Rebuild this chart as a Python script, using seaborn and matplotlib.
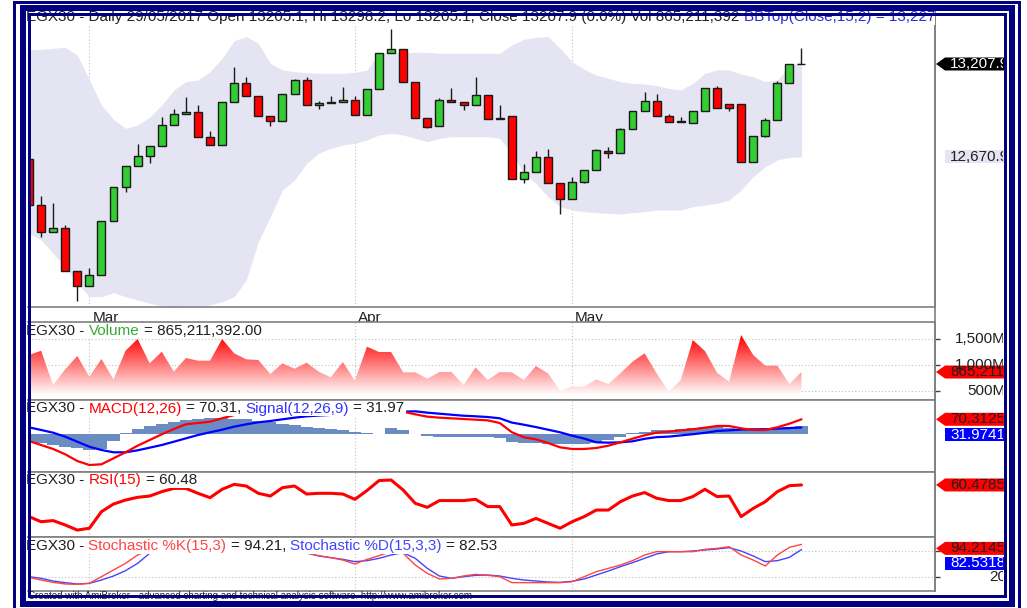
"""
EGX30 daily chart (AmiBroker style) rebuilt with matplotlib + seaborn.
Price candles with Bollinger band, volume, MACD, RSI and stochastic panes.
"""

import numpy as np
import matplotlib
matplotlib.use("Agg")
import matplotlib.pyplot as plt
import seaborn as sns
from matplotlib.colors import LinearSegmentedColormap
from matplotlib.lines import Line2D
from matplotlib.patches import Rectangle, Polygon
from matplotlib.transforms import Bbox, TransformedBbox

W, H = 1027, 608

# ---------------------------------------------------------------- data
# 65 trading sessions, 22 Feb 2017 - 29 May 2017
opens = [12657.6, 12393.7, 12236.1, 12262.7, 12012.6, 11926.0, 11987.8, 12301.3, 12495.9, 12620.6,
         12674.9, 12736.1, 12855.6, 12917.4, 12929.0, 12786.4, 12741.9, 12986.7, 13096.4, 13024.8,
         12907.6, 12878.7, 13034.6, 13113.7, 12969.4, 12984.4, 12988.4, 13000.0, 12913.4, 13061.8,
         13273.1, 13294.5, 13102.2, 12896.1, 12849.9, 12998.3, 12986.7, 12969.4, 13027.1, 12892.0,
         12907.6, 12542.1, 12582.5, 12669.1, 12519.0, 12428.4, 12524.8, 12597.5, 12707.3, 12692.2,
         12830.8, 12936.5, 12992.5, 12907.6, 12874.7, 12867.2, 12936.5, 13067.6, 12975.2, 12975.2,
         12643.7, 12793.9, 12886.3, 13098.2, 13205.1]
highs = [12657.6, 12445.7, 12403.5, 12276.5, 12012.6, 12028.2, 12301.3, 12495.9, 12620.6, 12744.2,
         12736.1, 12903.6, 12948.0, 13017.3, 12971.1, 12822.7, 12986.7, 13188.8, 13131.1, 13024.8,
         12907.6, 13034.6, 13119.5, 13131.1, 12994.2, 13023.1, 13075.1, 13021.4, 13061.8, 13273.1,
         13410.0, 13294.5, 13102.2, 12896.1, 13009.8, 13067.6, 12986.7, 13131.1, 13027.1, 12969.4,
         12907.6, 12630.5, 12703.8, 12717.1, 12519.0, 12557.1, 12597.5, 12715.3, 12730.3, 12840.1,
         12936.5, 13046.2, 13034.6, 12917.4, 12903.6, 12936.5, 13067.6, 13080.8, 12975.2, 12975.2,
         12793.9, 12894.3, 13109.7, 13205.1, 13298.2]
lows = [12393.7, 12210.7, 12236.1, 12012.6, 11839.4, 11926.0, 11987.8, 12301.3, 12467.1, 12620.6,
        12638.0, 12736.1, 12855.6, 12917.4, 12786.4, 12741.9, 12741.9, 12986.7, 13024.8, 12907.6,
        12851.6, 12878.7, 13034.6, 12969.4, 12946.3, 12984.4, 12988.4, 12913.4, 12913.4, 13061.8,
        13273.1, 13102.2, 12896.1, 12836.6, 12849.9, 12986.7, 12942.3, 12969.4, 12892.0, 12892.0,
        12542.1, 12522.5, 12582.5, 12519.0, 12340.0, 12428.4, 12519.0, 12597.5, 12666.8, 12692.2,
        12830.8, 12936.5, 12907.6, 12874.7, 12874.7, 12867.2, 12936.5, 12953.8, 12938.2, 12643.7,
        12643.7, 12784.6, 12886.3, 13098.2, 13205.1]
closes = [12393.7, 12236.1, 12262.7, 12012.6, 11926.0, 11987.8, 12301.3, 12495.9, 12620.6, 12674.9,
          12736.1, 12855.6, 12917.4, 12929.0, 12786.4, 12741.9, 12986.7, 13096.4, 13024.8, 12907.6,
          12878.7, 13034.6, 13113.7, 12969.4, 12980.9, 12988.4, 13000.0, 12913.4, 13061.8, 13273.1,
          13294.5, 13102.2, 12896.1, 12845.8, 12998.3, 12986.7, 12969.4, 13027.1, 12892.0, 12897.8,
          12542.1, 12582.5, 12669.1, 12519.0, 12428.4, 12524.8, 12597.5, 12709.6, 12692.2, 12830.8,
          12936.5, 12992.5, 12907.6, 12874.7, 12878.7, 12936.5, 13067.6, 12953.8, 12953.8, 12643.7,
          12793.9, 12886.3, 13098.2, 13205.1, 13207.9]

bb_top = [13288.7, 13292.5, 13298.3, 13304.1, 13259.8, 13115.5, 12971.1, 12888.3, 12836.4, 12855.6,
          12899.9, 12971.1, 13057.7, 13105.8, 13115.5, 13163.6, 13240.6, 13342.6, 13365.7, 13327.2,
          13211.7, 13173.2, 13163.6, 13157.8, 13153.9, 13153.9, 13153.9, 13159.7, 13173.2, 13269.4,
          13275.2, 13275.2, 13275.2, 13275.2, 13269.4, 13269.4, 13269.4, 13269.4, 13269.4, 13269.4,
          13317.5, 13350.3, 13361.8, 13365.7, 13298.0, 13221.3, 13177.0, 13144.3, 13125.1, 13105.8,
          13096.2, 13092.4, 13082.7, 13067.3, 13057.7, 13096.2, 13153.9, 13173.2, 13173.2, 13150.1,
          13134.7, 13105.8, 13115.5, 13192.4, 13227.1]
bb_bot = [12230.1, 12191.6, 12114.6, 12037.6, 11941.4, 11864.4, 11864.4, 11887.5, 11864.4, 11845.2,
          11825.9, 11810.5, 11806.7, 11810.5, 11810.5, 11816.3, 11835.5, 11864.4, 11960.6, 12182.0,
          12326.3, 12480.3, 12538.0, 12634.3, 12692.0, 12720.9, 12740.2, 12749.8, 12769.0, 12797.9,
          12807.5, 12797.9, 12778.6, 12759.4, 12778.6, 12788.3, 12788.3, 12788.3, 12788.3, 12778.6,
          12692.0, 12576.5, 12518.8, 12441.8, 12384.1, 12364.8, 12355.2, 12349.5, 12345.6, 12341.7,
          12349.5, 12355.2, 12364.8, 12364.8, 12364.8, 12384.1, 12393.7, 12403.3, 12422.6, 12480.3,
          12557.3, 12615.0, 12653.5, 12668.9, 12670.9]

volume_m = [1192, 1275, 615, 917, 1173, 776, 1115, 724, 1275, 1500,
            1032, 1256, 872, 1135, 1083, 1083, 1500, 1224, 1109, 1096,
            827, 1032, 929, 1045, 872, 763, 1058, 699, 1352, 1250,
            1250, 859, 859, 737, 865, 865, 615, 955, 712, 865,
            859, 712, 981, 840, 506, 583, 583, 724, 635, 840,
            1064, 1224, 840, 487, 712, 1481, 1269, 853, 679, 1577,
            1192, 987, 987, 635, 865.2]

macd = [-31.4, -50.2, -68.9, -93.8, -125.2, -144.0, -140.7, -112.6, -84.4, -53.5,
        -26.7, 0.0, 24.9, 46.9, 53.0, 59.1, 75.0, 90.5, 100.0, 102.0,
        100.0, 104.0, 110.0, 106.0, 104.0, 102.0, 100.0, 95.0, 100.0, 115.0,
        122.0, 106.0, 93.8, 82.7, 78.0, 75.0, 71.8, 68.6, 65.5, 53.0,
        10.0, -14.2, -23.3, -40.6, -61.1, -68.9, -68.9, -64.2, -53.4, -37.7,
        -20.6, -4.8, 7.7, 12.4, 18.6, 23.5, 31.1, 39.0, 39.0, 28.1,
        20.3, 20.3, 32.8, 49.9, 70.31]
signal = [32.8, 20.3, 7.5, -11.1, -34.8, -58.2, -73.6, -84.4, -84.4, -75.0,
          -62.7, -50.2, -34.8, -18.9, -3.3, 9.4, 21.6, 35.8, 46.9, 56.3,
          62.5, 70.3, 78.0, 84.4, 88.0, 91.0, 93.0, 95.0, 96.0, 98.0,
          102.0, 106.0, 107.9, 101.5, 96.7, 91.9, 87.2, 84.4, 81.1, 75.0,
          55.0, 45.0, 33.9, 21.6, 9.4, -6.4, -20.1, -37.6, -39.1, -37.7,
          -32.8, -21.1, -13.3, -10.8, -5.2, 0.5, 7.0, 15.5, 18.6, 21.9,
          23.4, 23.4, 26.6, 29.2, 31.97]
macd_hist = [-34, -40, -50, -58, -66, -73, -70, -30, 5, 25,
             40, 50, 60, 67, 72, 78, 78, 74, 70, 62,
             56, 48, 42, 36, 30, 24, 18, 12, 5, 2,
             28, 20, 0, -10, -12, -12, -12, -12, -12, -18,
             -34, -40, -42, -45, -45, -45, -45, -40, -25, -12,
             5, 12, 18, 22, 25, 28, 32, 35, 30, 25,
             22, 28, 30, 32, 38.34]

rsi = [43.1, 40.3, 40.9, 38.5, 35.7, 36.7, 45.8, 50.0, 52.2, 53.7,
       54.4, 56.8, 58.6, 58.6, 55.9, 53.5, 58.1, 60.8, 59.9, 55.9,
       54.4, 59.0, 59.9, 55.5, 55.9, 55.9, 55.5, 52.6, 57.4, 62.9,
       63.2, 57.7, 50.4, 48.2, 51.9, 51.9, 51.9, 52.6, 48.6, 48.6,
       38.5, 39.4, 42.1, 39.4, 36.7, 40.3, 43.1, 46.7, 46.7, 51.3,
       54.4, 56.3, 53.2, 51.9, 51.9, 54.1, 58.1, 54.1, 54.4, 43.1,
       47.6, 51.3, 56.8, 60.1, 60.48]

stoch_k = [19.9, 13.9, 8.6, 4.9, 4.1, 6.4, 21.4, 36.5, 51.5, 70.3,
           82.0, 88.0, 92.0, 94.0, 90.0, 86.0, 90.0, 95.0, 93.0, 88.0,
           85.0, 88.0, 90.0, 75.0, 68.8, 64.3, 59.0, 50.0, 60.5, 68.8,
           77.8, 74.1, 47.7, 28.9, 16.2, 17.7, 22.9, 26.7, 24.4, 21.4,
           8.0, 7.9, 7.9, 7.9, 7.9, 10.1, 21.4, 32.7, 40.2, 47.7,
           57.5, 70.3, 77.8, 77.8, 77.8, 77.8, 83.1, 85.3, 89.1, 70.3,
           59.0, 45.5, 70.3, 87.6, 94.21]
stoch_d = [21.4, 17.7, 11.6, 7.9, 4.9, 6.4, 13.9, 22.9, 35.0, 51.5,
           74.1, 80.0, 86.0, 90.0, 92.0, 92.0, 90.0, 89.0, 91.0, 92.0,
           90.0, 87.0, 87.0, 75.0, 68.1, 64.3, 60.5, 55.3, 57.5, 62.8,
           70.3, 75.6, 62.8, 40.2, 22.9, 17.7, 21.4, 24.4, 25.2, 22.9,
           17.7, 13.9, 11.6, 9.4, 8.6, 10.9, 16.2, 25.2, 34.2, 44.0,
           53.0, 62.8, 72.6, 77.8, 77.8, 79.3, 81.6, 83.8, 86.8, 79.3,
           68.1, 55.3, 57.5, 65.0, 82.53]

month_pos = [5, 27, 45]
month_labels = ["Mar", "Apr", "May"]
vol_ticks = [500, 1000, 1500]
vol_tick_labels = ["500M", "1,000M", "1,500M"]

# ---------------------------------------------------------------- layout
PX_LEFT, PX_AXIS, PX_CLIP = 28, 935, 1003
BAR0, BAR_STEP = 29.0, 12.07
X_LO = (PX_LEFT - BAR0) / BAR_STEP
X_HI = (PX_AXIS - BAR0) / BAR_STEP

TXT = "#202020"
RED = "#ff0000"
GREEN = "#33cc33"
BLUE = "#0000ff"
NAVY = "#000080"
BAND = "#e4e4f2"
GRID = dict(color="#c0c0c0", linestyle=(0, (1, 2)), linewidth=0.8)

sns.set_theme(style="white")
plt.rcParams["font.family"] = ["Liberation Sans", "DejaVu Sans"]

fig = plt.figure(figsize=(W / 100, H / 100), dpi=100, facecolor="white")
renderer = fig.canvas.get_renderer()


def fx(px):
    return px / W


def fy(py):
    return 1 - py / H


def px_axes(top, bottom):
    return fig.add_axes([fx(PX_LEFT), fy(bottom), (PX_AXIS - PX_LEFT) / W, (bottom - top) / H])


ax_p = px_axes(12, 307)
ax_v = px_axes(322, 400)
ax_m = px_axes(400, 472)
ax_r = px_axes(472, 537)
ax_s = px_axes(537, 591)
panes = (ax_p, ax_v, ax_m, ax_r, ax_s)

for ax in panes:
    ax.set_facecolor("white")
    ax.spines["left"].set_visible(False)
    for side in ("top", "bottom", "right"):
        ax.spines[side].set_color("#808080")
        ax.spines[side].set_linewidth(1.2)
    ax.set_xticks(month_pos)
    ax.tick_params(axis="x", length=0, labelbottom=False)
    ax.tick_params(axis="y", left=False, labelleft=False, right=False, labelright=False)
    ax.xaxis.grid(True, **GRID)
    ax.set_axisbelow(True)

idx = np.arange(len(closes))

# ---- price pane
o = np.array(opens)
c = np.array(closes)
ax_p.fill_between(idx, bb_bot, bb_top, color=BAND, lw=0, zorder=1)
ax_p.vlines(idx, lows, highs, color="#1a1a1a", lw=1, zorder=2)
ax_p.bar(idx, np.maximum(np.abs(c - o), 2.0), bottom=np.minimum(o, c), width=0.66,
         color=np.where(c >= o, GREEN, RED), edgecolor="#1a1a1a", linewidth=1, zorder=3)
ax_p.set_ylim(11804.8, 13508.1)
ax_p.tick_params(axis="x", length=3.6, width=1, color="#404040", direction="out")
for pos, lab in zip(month_pos, month_labels):
    ax_p.text(pos + 0.25, -0.012, lab, transform=ax_p.get_xaxis_transform(),
              ha="left", va="top", fontsize=11, color=TXT)

# ---- volume pane, red fading to white
VOL_LO, VOL_HI = 327, 1827
ax_v.set_yticks(vol_ticks)
ax_v.yaxis.grid(True, **GRID)
ax_v.tick_params(axis="y", right=True, length=3.6, width=1, color="#404040", direction="out")
poly = ax_v.fill_between(idx, volume_m, VOL_LO, facecolor="none", edgecolor="none")
fade = LinearSegmentedColormap.from_list("fade", ["#ffffff", "#ff0000"])
levels = np.linspace(VOL_LO, 1650, 300)
grad = np.clip((levels - 420) / (1560 - 420), 0, 1).reshape(-1, 1)
im = ax_v.imshow(grad, extent=(X_LO, X_HI, VOL_LO, 1650), origin="lower", aspect="auto",
                 cmap=fade, vmin=0, vmax=1, interpolation="bilinear", zorder=2)
im.set_clip_path(poly.get_paths()[0], ax_v.transData)
ax_v.set_ylim(VOL_LO, VOL_HI)

# ---- MACD pane
ax_m.bar(idx, macd_hist, width=1.0, color="#6b8cc3", lw=0, zorder=2)
sns.lineplot(x=idx, y=signal, ax=ax_m, color=BLUE, lw=1.6, zorder=3, legend=False)
sns.lineplot(x=idx, y=macd, ax=ax_m, color=RED, lw=1.6, zorder=4, legend=False)
ax_m.set_ylim(-176.8, 160.9)

# ---- RSI pane
sns.lineplot(x=idx, y=rsi, ax=ax_r, color=RED, lw=2.2, legend=False)
ax_r.set_ylim(31.9, 67.6)

# ---- stochastic pane
ax_s.set_yticks([20, 80])
ax_s.yaxis.grid(True, **GRID)
ax_s.tick_params(axis="y", right=True, length=3.6, width=1, color="#404040", direction="out")
sns.lineplot(x=idx, y=stoch_d, ax=ax_s, color="#4444ff", lw=1.0, legend=False)
sns.lineplot(x=idx, y=stoch_k, ax=ax_s, color="#ff4444", lw=1.0, legend=False)
ax_s.set_ylim(-10.9, 110.9)

for ax in panes:
    ax.set_xlim(X_LO, X_HI)
    ax.set_xlabel("")
    ax.set_ylabel("")

# ---------------------------------------------------------------- texts
clip_title = TransformedBbox(Bbox([[0, 0], [fx(PX_AXIS), 1]]), fig.transFigure)
clip_right = TransformedBbox(Bbox([[0, 0], [fx(PX_CLIP), 1]]), fig.transFigure)


def text_width(s, size):
    t = fig.text(0, 0, s + "|", fontsize=size)
    w = t.get_window_extent(renderer).width
    t.remove()
    return w


def title_line(parts, y_px, x_px=26, size=11, clip=None):
    """Multi-coloured pane title on an opaque white strip (hides the lines below it)."""
    pipe = text_width("", size)
    full = "".join(s for s, _ in parts)
    width = text_width(full, size) - pipe + 2
    strip = Rectangle((fx(x_px - 1), fy(y_px + 7.5)), width / W, 15 / H, transform=fig.transFigure,
                      fc="white", ec="none", zorder=5)
    fig.add_artist(strip)
    if clip is not None:
        strip.set_clip_box(clip)
    prefix = ""
    for s, col in parts:
        lead = len(s) - len(s.lstrip())
        head = prefix + s[:lead]
        x = x_px + (text_width(head, size) - pipe if head else 0)
        t = fig.text(fx(x), fy(y_px), s.strip(), color=col, fontsize=size,
                     ha="left", va="center", zorder=6)
        if clip is not None:
            t.set_clip_box(clip)
            t.set_clip_on(True)
        prefix += s


title_line([("EGX30 - Daily 29/05/2017 Open 13205.1, Hi 13298.2, Lo 13205.1, Close 13207.9 (0.0%) "
             "Vol 865,211,392 ", TXT), ("BBTop(Close,15,2) = 13,227.1", "#2b2bd0")], 17, clip=clip_title)
title_line([("EGX30 - ", TXT), ("Volume", "#3aaa35"), (" = 865,211,392.00", TXT)], 331)
title_line([("EGX30 - ", TXT), ("MACD(12,26)", RED), (" = 70.31, ", TXT),
            ("Signal(12,26,9)", "#3333ff"), (" = 31.97", TXT)], 408.5)
title_line([("EGX30 - ", TXT), ("RSI(15)", RED), (" = 60.48", TXT)], 480)
title_line([("EGX30 - ", TXT), ("Stochastic %K(15,3)", "#ff4444"), (" = 94.21, ", TXT),
            ("Stochastic %D(15,3,3)", "#4444ff"), (" = 82.53", TXT)], 546)


def value_px(ax, value):
    """Pixel row (from the top) of a data value in a pane."""
    return H - ax.transData.transform((0, value))[1]


def side_label(ax, value, s, fc=None, tc=TXT, arrow=False, dy=0, x_px=950, ha="left"):
    y = value_px(ax, value) + dy
    if fc is not None:
        half = 6.5
        if arrow:
            pts = [(936, y), (945, y - half), (PX_CLIP + 1, y - half),
                   (PX_CLIP + 1, y + half), (945, y + half)]
        else:
            pts = [(945, y - half), (PX_CLIP + 1, y - half), (PX_CLIP + 1, y + half), (945, y + half)]
        fig.add_artist(Polygon([(fx(a), fy(b)) for a, b in pts], closed=True,
                               transform=fig.transFigure, fc=fc, ec="none", zorder=7))
    t = fig.text(fx(x_px), fy(y), s, color=tc, fontsize=11, ha=ha, va="center", zorder=8)
    t.set_clip_box(clip_right)
    t.set_clip_on(True)


side_label(ax_p, closes[-1], "13,207.9", fc="black", tc="white", arrow=True)
side_label(ax_p, bb_bot[-1], "12,670.9", fc=BAND)
for v, lab in zip(vol_ticks, vol_tick_labels):
    side_label(ax_v, v, lab, x_px=1006, ha="right")
side_label(ax_v, volume_m[-1], "865,211,3", fc=RED, arrow=True)
side_label(ax_m, macd[-1], "70.3125", fc=RED, arrow=True)
side_label(ax_m, signal[-1], "31.9741", fc=BLUE, tc="white", dy=7.5)
side_label(ax_r, rsi[-1], "60.4785", fc=RED, arrow=True)
side_label(ax_s, 20, "20", x_px=1006, ha="right")
side_label(ax_s, stoch_k[-1], "94.2145", fc=RED, arrow=True, dy=4)
side_label(ax_s, stoch_d[-1], "82.5318", fc=BLUE, tc="white", dy=13.5)

fig.text(fx(28), fy(596),
         "Created with AmiBroker - advanced charting and technical analysis software. http://www.amibroker.com",
         fontsize=7, color=TXT, va="center", ha="left", zorder=5)

# right price-axis line through the date strip
fig.add_artist(Line2D([fx(PX_AXIS)] * 2, [fy(12), fy(591)], color="#808080", lw=1.2, zorder=4))


def frame(x0, y0, x1, y1, lw_px):
    fig.add_artist(Rectangle((fx(x0), fy(y1)), (x1 - x0) / W, (y1 - y0) / H,
                             transform=fig.transFigure, fill=False, ec=NAVY,
                             lw=lw_px * 0.72, zorder=20))


# triple navy border: thin outer, thick middle, thin inner
frame(13.5, 1.5, 1018.5, 611, 3)
frame(22.5, 7.5, 1012, 603.5, 6)
frame(28.5, 14, 1005, 595.5, 3)

fig.savefig("out.png", dpi=100, facecolor="white")
